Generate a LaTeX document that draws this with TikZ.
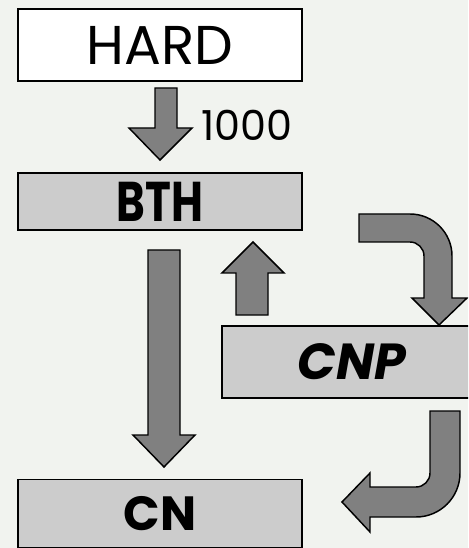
\documentclass[tikz,border=0pt]{standalone}
\usepackage{fontspec}
\setmainfont{Poppins}
\usetikzlibrary{positioning}
\definecolor{bgpaper}{RGB}{241,243,239}
\definecolor{boxgray}{RGB}{204,204,204}
\definecolor{arrowgray}{RGB}{128,128,128}
\tikzset{
  box/.style={draw=black, line width=1.1pt, fill=boxgray, inner sep=0pt, anchor=center},
  blockarrow/.style={draw=black, line width=1.1pt, fill=arrowgray, line join=miter}
}

\begin{document}
\begin{tikzpicture}[x=0.75pt,y=-0.75pt]
  \useasboundingbox (0,0) rectangle (468,548);
  \clip (0,0) rectangle (468,548);
  \fill[bgpaper] (0,0) rectangle (468,548);

  % boxes
  \node[box, fill=white, minimum width=213pt, minimum height=54pt,
        font=\fontsize{41}{43}\selectfont] (hard) at (160,45) {HARD};
  \node[box, minimum width=213pt, minimum height=42.75pt,
        font=\fontsize{42}{44}\selectfont\bfseries] (bth) at (160,201.5) {\scalebox{0.78}[1]{BTH}};
  \node[box, minimum width=195pt, minimum height=54pt,
        font=\fontsize{38}{40}\selectfont\bfseries\itshape] (cnp) at (352,362) {CNP};
  \node[box, minimum width=213pt, minimum height=51pt,
        font=\fontsize{36}{38}\selectfont\bfseries] (cn) at (160,513.5) {CN};
  \node[font=\fontsize{31}{33}\selectfont, inner sep=0pt] (lbl) at (247,125) {1000};

  % hard -> bth
  \draw[blockarrow] (155,88) -- (177,88) -- (177,128) -- (192,128) -- (160,160)
    -- (129,128) -- (155,128) -- cycle;
  % bth -> cn
  \draw[blockarrow] (148,250) -- (180,250) -- (180,435) -- (195,435) -- (164,467)
    -- (133,435) -- (148,435) -- cycle;
  % cnp -> bth
  \draw[blockarrow] (236,315) -- (268,315) -- (268,273) -- (284,273) -- (253,242)
    -- (222,273) -- (236,273) -- cycle;
  % bth -> cnp
  \draw[blockarrow] (359,214) -- (410,214) arc[start angle=90,end angle=0,radius=31.5pt]
    -- (452,298) -- (467,298) -- (439,325) -- (412,298) -- (424,298) -- (424,256)
    arc[start angle=0,end angle=90,radius=10.5pt] -- (359,242) -- cycle;
  % cnp -> cn
  \draw[blockarrow] (430,411) -- (460,411) -- (460,473) arc[start angle=0,end angle=-90,radius=33pt]
    -- (370,517) -- (370,532) -- (342,502) -- (370,473) -- (370,487) -- (416,487)
    arc[start angle=-90,end angle=0,radius=10.5pt] -- cycle;
\end{tikzpicture}
\end{document}
